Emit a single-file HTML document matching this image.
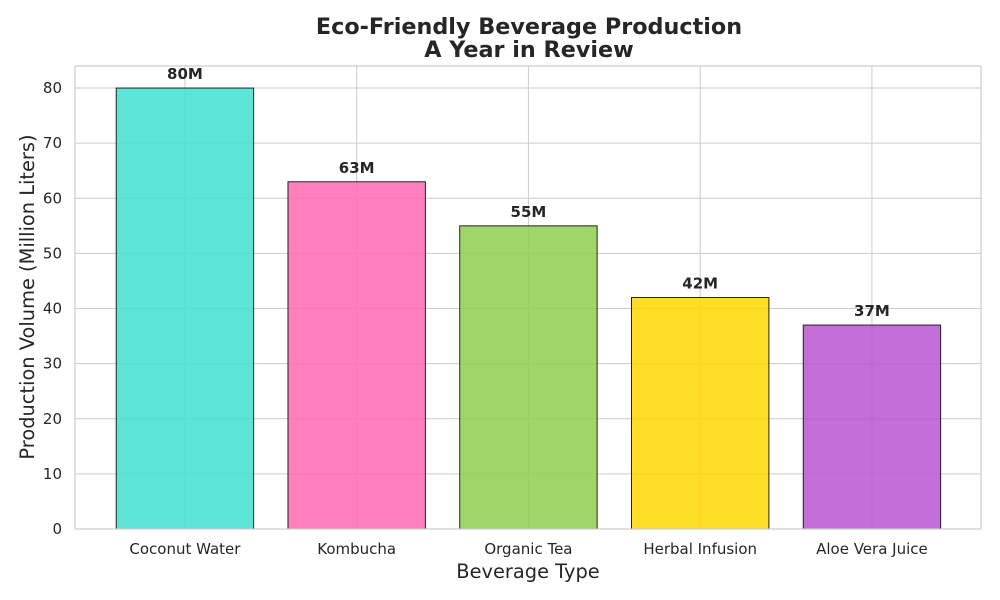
<!DOCTYPE html>
<html><head><meta charset="utf-8"><style>
body{margin:0;background:#fff;}
svg{display:block;font-family:"DejaVu Sans","Liberation Sans",sans-serif;}
</style></head><body>
<svg id="chart" width="1000" height="600" viewBox="0 0 1000 600">
<rect width="1000" height="600" fill="#fff"/>
<text x="529" y="34" text-anchor="middle" font-size="22.3" font-weight="bold" fill="#262626">Eco-Friendly Beverage Production</text>
<text x="529" y="57" text-anchor="middle" font-size="22.3" font-weight="bold" fill="#262626">A Year in Review</text>
<g id="grid"></g><g id="bars"></g><g id="labels"></g>
<rect x="75" y="66" width="906" height="463" fill="none" stroke="#cccccc" stroke-width="1.2"/>
<text x="528" y="578" text-anchor="middle" font-size="19.4" fill="#262626">Beverage Type</text>
<text transform="translate(34,297) rotate(-90)" text-anchor="middle" font-size="19.4" fill="#262626">Production Volume (Million Liters)</text>
</svg>
<script>
const categories=["Coconut Water","Kombucha","Organic Tea","Herbal Infusion","Aloe Vera Juice"];
const values=[80,63,55,42,37];
const colors=["#40E0D0","#FF69B4","#8FCF4F","#FFD700","#BA55D3"];
const yTicks=[0,10,20,30,40,50,60,70,80];
const L=75,R=981,T=66,B=529,yMax=84,xMin=-0.64,xMax=4.635;
const ns="http://www.w3.org/2000/svg";
const y=v=>B-(v/yMax)*(B-T);
const x=i=>L+(i-xMin)/(xMax-xMin)*(R-L);
const bw=0.8*(R-L)/(xMax-xMin);
function mk(t,a,p){const e=document.createElementNS(ns,t);for(const k in a)e.setAttribute(k,a[k]);p.appendChild(e);return e;}
const g=document.getElementById('grid'),bg=document.getElementById('bars'),lg=document.getElementById('labels');
yTicks.forEach(v=>{
 const l=mk('line',{x1:L,x2:R,y1:y(v),y2:y(v),stroke:'#cccccc','stroke-width':1},g);
 
 
 const t=mk('text',{x:L-13,y:y(v)+5,'text-anchor':'end','font-size':15,fill:'#262626'},lg);
 t.textContent=v;
 
 
});
categories.forEach((c,i)=>{
 const l=mk('line',{x1:x(i),x2:x(i),y1:T,y2:B,stroke:'#cccccc','stroke-width':1},g);
 
 
 const r=mk('rect',{x:x(i)-bw/2,y:y(values[i]),width:bw,height:B-y(values[i]),fill:colors[i],'fill-opacity':0.85,stroke:'#222','stroke-width':1},bg);
 
 
 const v=mk('text',{x:x(i),y:y(values[i])-9,'text-anchor':'middle','font-size':15,'font-weight':'bold',fill:'#262626'},lg);
 v.textContent=values[i]+'M';
 
 
 const t=mk('text',{x:x(i),y:B+25,'text-anchor':'middle','font-size':15,fill:'#262626'},lg);
 t.textContent=c;
 
 
});
</script>
</body></html>
